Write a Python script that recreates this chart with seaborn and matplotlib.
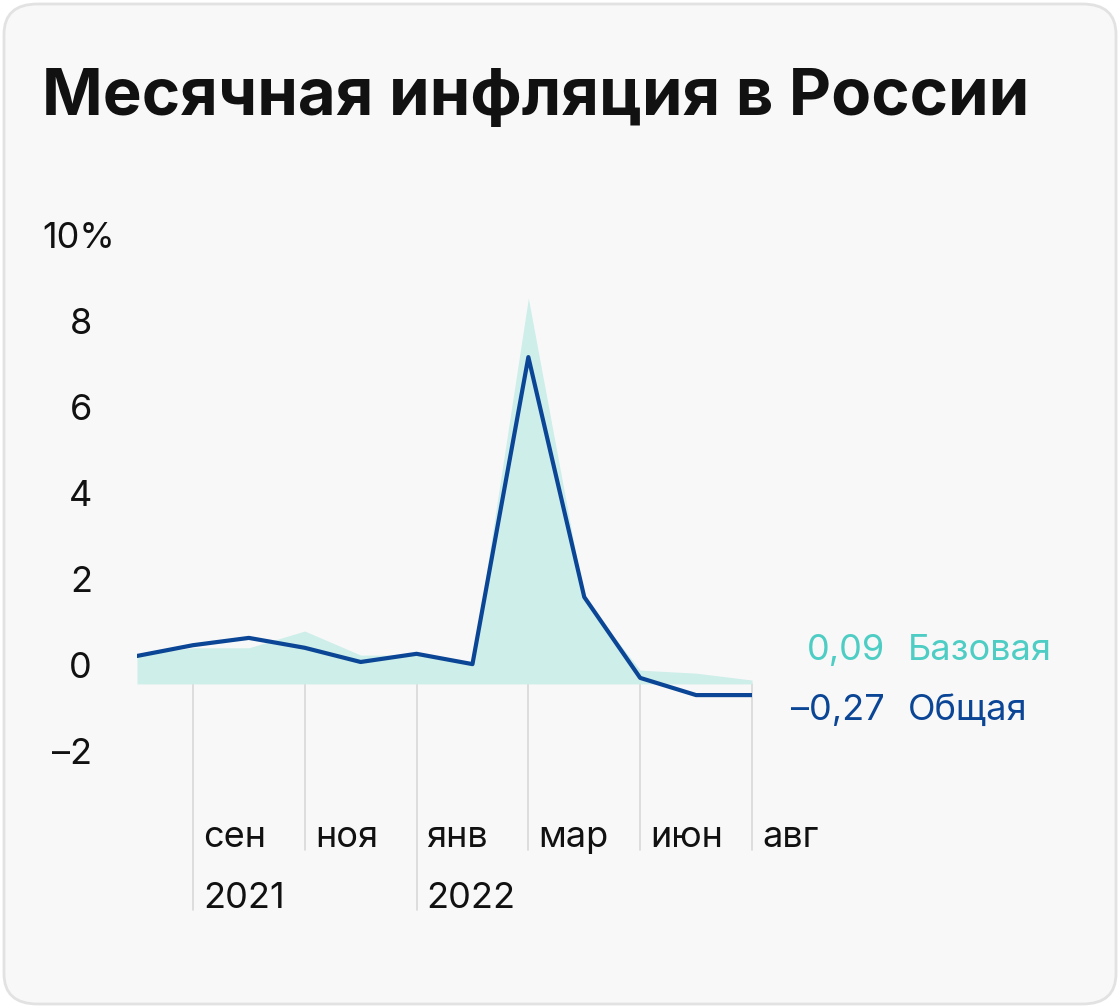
import matplotlib
matplotlib.use("Agg")
import numpy as np
import pandas as pd
import seaborn as sns
from matplotlib import pyplot as plt
from matplotlib.patches import FancyBboxPatch

# monthly values, %
months = list(range(12))
total = [0.28, 0.53, 0.70, 0.47, 0.14, 0.33, 0.09, 7.23, 1.65, -0.23, -0.63, -0.63]
core = [0.30, 0.47, 0.47, 0.86, 0.30, 0.30, 0.09, 8.60, 1.60, -0.05, -0.12, -0.28]
tick_pos = [1, 3, 5, 7, 9, 11]
tick_labels = ["сен", "ноя", "янв", "мар", "июн", "авг"]
year_pos = [1, 5]
year_labels = ["2021", "2022"]
y_ticks = [-2, 0, 2, 4, 6, 8, 10]

sns.set_theme(style="white")
plt.rcParams["font.family"] = ["Inter", "DejaVu Sans"]

W, H = 1120, 1008
FS = 26
fig = plt.figure(figsize=(W / 100, H / 100), dpi=100)
fig.patch.set_facecolor("white")
fig.patches.append(FancyBboxPatch((4 / W, 4 / H), 1 - 8 / W, 1 - 8 / H,
                                  boxstyle="round,pad=0,rounding_size=0.03",
                                  transform=fig.transFigure, facecolor="#f8f8f8",
                                  edgecolor="#e2e2e2", linewidth=2, zorder=-10))
fig.text(42 / W, 1 - 98 / H, "Месячная инфляция в России", fontsize=47,
         fontweight="bold", va="center", ha="left", color="#111111")

# pixel mapping: y=668 -> 0, 43 px per unit
ylo, yhi = -2.4, 10.3
ax = fig.add_axes([137 / W, 1 - (668 + 43 * 2.4) / H, (752 - 137) / W, 43 * (yhi - ylo) / H])
ax.set_zorder(5)
ax.set_facecolor("none")
ax.patch.set_alpha(0)

base = -0.37
df = pd.DataFrame({"m": months, "total": total, "core": core})
ax.fill_between(df["m"], base, df["core"], color="#cdeee9", linewidth=0)
sns.lineplot(data=df, x="m", y="total", ax=ax, color="#0b4595", linewidth=3)
ax.set_xlim(0, 11)
ax.set_ylim(ylo, yhi)
ax.axis("off")

for p in tick_pos:
    bottom = -5.63 if p in year_pos else -4.23
    ax.plot([p, p], [base, bottom], color="#d8d8d8", linewidth=1.2, clip_on=False, zorder=0)
for p, lab in zip(tick_pos, tick_labels):
    ax.text(p + 0.18, -3.95, lab, fontsize=FS, color="#111111", va="center", ha="left")
for p, lab in zip(year_pos, year_labels):
    ax.text(p + 0.18, -5.35, lab, fontsize=FS, color="#111111", va="center", ha="left")

for v in y_ticks:
    lab = f"{v}%" if v == 10 else ("\u2013" + str(-v) if v < 0 else str(v))
    x = 42 / W if v == 10 else 92 / W
    ha = "left" if v == 10 else "right"
    fig.text(x, 1 - (668 - 43 * v) / H, lab, fontsize=FS, color="#111111", va="center", ha=ha)

teal, navy = "#4ecdc4", "#0b4595"
fig.text(885 / W, 1 - 650 / H, "0,09", fontsize=FS, color=teal, va="center", ha="right")
fig.text(908 / W, 1 - 650 / H, "Базовая", fontsize=FS, color=teal, va="center", ha="left")
fig.text(885 / W, 1 - 710 / H, "\u20130,27", fontsize=FS, color=navy, va="center", ha="right")
fig.text(908 / W, 1 - 710 / H, "Общая", fontsize=FS, color=navy, va="center", ha="left")

fig.savefig("out.png", dpi=100)
